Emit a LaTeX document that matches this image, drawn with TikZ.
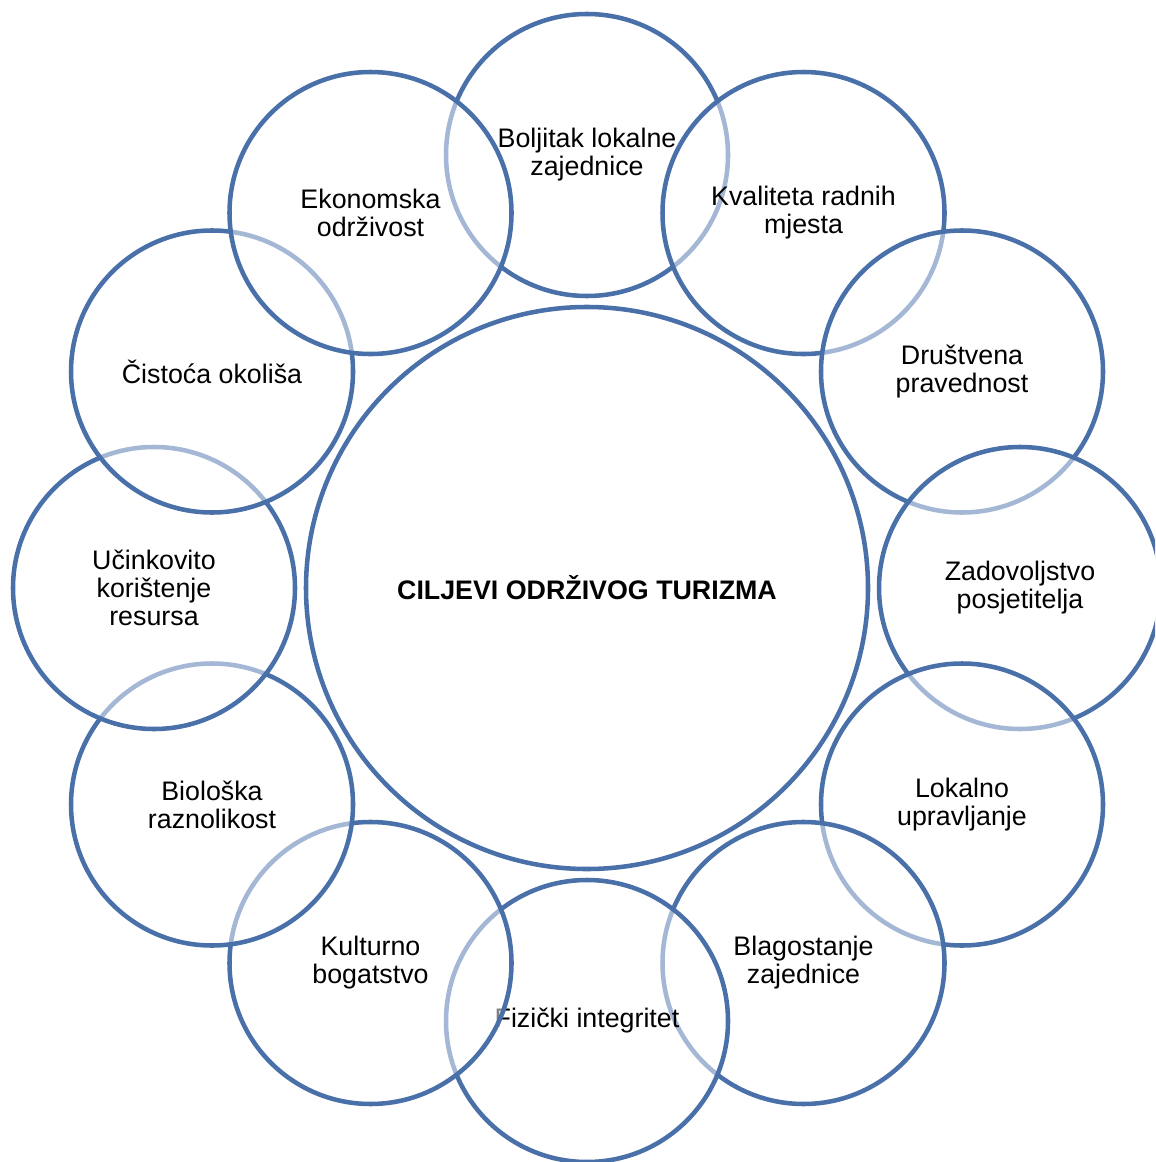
\documentclass[tikz,border=0pt]{standalone}
\usepackage{fontspec}
\setmainfont{Liberation Sans}
\usetikzlibrary{calc}
\definecolor{ringblue}{RGB}{74,112,170}
\begin{document}
\begin{tikzpicture}[x=0.75pt,y=-0.75pt,
  ring/.style={circle,draw=ringblue,line width=3.4pt,fill=white,fill opacity=0.5,text opacity=1,
    minimum size=211.5pt,inner sep=0pt,align=center,font=\fontsize{20.1}{21}\selectfont},
  hub/.style={circle,draw=ringblue,line width=3.4pt,fill=white,minimum size=421.5pt,inner sep=0pt,
    align=center,font=\bfseries\fontsize{20.1}{21}\selectfont}]
\clip (0,0) rectangle (1155,1162);
\useasboundingbox (0,0) rectangle (1155,1162);
\coordinate (c) at (587,588);
\node[hub] (hub) at (c) {CILJEVI ODRŽIVOG TURIZMA};
\foreach \i/\t in {0/{Boljitak lokalne\\zajednice},
  1/{Kvaliteta radnih\\mjesta},
  2/{Društvena\\pravednost},
  3/{Zadovoljstvo\\posjetitelja},
  4/{Lokalno\\upravljanje},
  5/{Blagostanje\\zajednice},
  6/{Fizički integritet},
  7/{Kulturno\\bogatstvo},
  8/{Biološka\\raznolikost},
  9/{Učinkovito\\korištenje\\resursa},
  10/{Čistoća okoliša},
  11/{Ekonomska\\održivost}}{
  \node[ring] (o\i) at ($(c)+({433*sin(30*\i)},{-433*cos(30*\i)})$) {\t};
}
\end{tikzpicture}
\end{document}
